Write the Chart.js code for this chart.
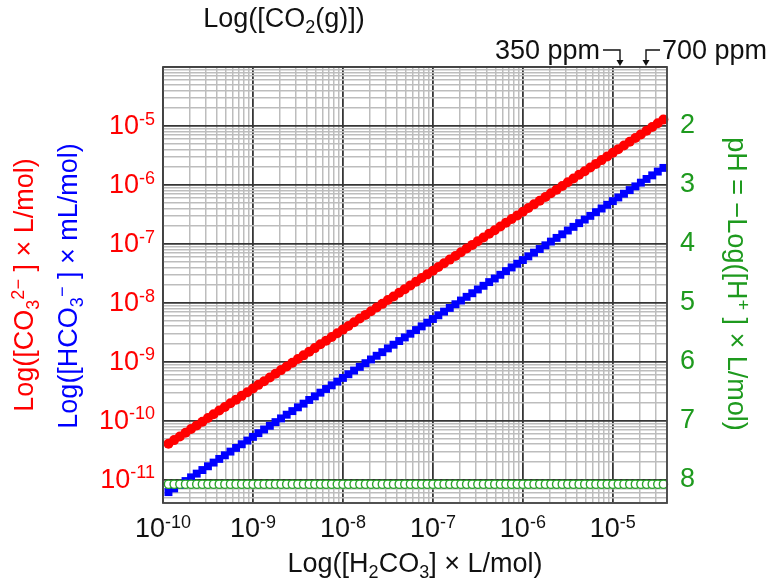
<!DOCTYPE html>
<html>
<head>
<meta charset="utf-8">
<script src="https://cdn.jsdelivr.net/npm/chart.js@4.4.0/dist/chart.umd.min.js"></script>
<style>
  body { margin: 0; background: #fff; }
  canvas { display: block; }
</style>
</head>
<body>
<canvas id="carbonate" width="769" height="581"></canvas>
<script>
const red = "#ff0000";
const blue = "#0000ff";
const green = "#1e9a1e";
const ink = "#111111";
const FONT = "'Liberation Sans', Arial, sans-serif";
const SIZE = 27;

// [H2CO3] in mol/L
const h2co3 = [
  1.15e-10, 1.33e-10, 1.54e-10, 1.78e-10, 2.05e-10, 2.37e-10, 2.74e-10, 3.16e-10, 3.65e-10, 4.22e-10, 4.87e-10, 5.62e-10, 6.49e-10, 7.50e-10, 8.66e-10,
  1.00e-9, 1.15e-9, 1.33e-9, 1.54e-9, 1.78e-9, 2.05e-9, 2.37e-9, 2.74e-9, 3.16e-9, 3.65e-9, 4.22e-9, 4.87e-9, 5.62e-9, 6.49e-9, 7.50e-9, 8.66e-9,
  1.00e-8, 1.15e-8, 1.33e-8, 1.54e-8, 1.78e-8, 2.05e-8, 2.37e-8, 2.74e-8, 3.16e-8, 3.65e-8, 4.22e-8, 4.87e-8, 5.62e-8, 6.49e-8, 7.50e-8, 8.66e-8,
  1.00e-7, 1.15e-7, 1.33e-7, 1.54e-7, 1.78e-7, 2.05e-7, 2.37e-7, 2.74e-7, 3.16e-7, 3.65e-7, 4.22e-7, 4.87e-7, 5.62e-7, 6.49e-7, 7.50e-7, 8.66e-7,
  1.00e-6, 1.15e-6, 1.33e-6, 1.54e-6, 1.78e-6, 2.05e-6, 2.37e-6, 2.74e-6, 3.16e-6, 3.65e-6, 4.22e-6, 4.87e-6, 5.62e-6, 6.49e-6, 7.50e-6, 8.66e-6,
  1.00e-5, 1.15e-5, 1.33e-5, 1.54e-5, 1.78e-5, 2.05e-5, 2.37e-5, 2.74e-5, 3.16e-5, 3.65e-5
];

// [CO3 2-] in mol/L
const co3 = [
  4.04e-11, 4.67e-11, 5.39e-11, 6.22e-11, 7.19e-11, 8.30e-11, 9.58e-11, 1.11e-10, 1.28e-10, 1.48e-10, 1.70e-10, 1.97e-10, 2.27e-10, 2.63e-10, 3.03e-10,
  3.50e-10, 4.04e-10, 4.67e-10, 5.39e-10, 6.22e-10, 7.19e-10, 8.30e-10, 9.58e-10, 1.11e-9, 1.28e-9, 1.48e-9, 1.70e-9, 1.97e-9, 2.27e-9, 2.63e-9, 3.03e-9,
  3.50e-9, 4.04e-9, 4.67e-9, 5.39e-9, 6.22e-9, 7.19e-9, 8.30e-9, 9.58e-9, 1.11e-8, 1.28e-8, 1.48e-8, 1.70e-8, 1.97e-8, 2.27e-8, 2.63e-8, 3.03e-8,
  3.50e-8, 4.04e-8, 4.67e-8, 5.39e-8, 6.22e-8, 7.19e-8, 8.30e-8, 9.58e-8, 1.11e-7, 1.28e-7, 1.48e-7, 1.70e-7, 1.97e-7, 2.27e-7, 2.63e-7, 3.03e-7,
  3.50e-7, 4.04e-7, 4.67e-7, 5.39e-7, 6.22e-7, 7.19e-7, 8.30e-7, 9.58e-7, 1.11e-6, 1.28e-6, 1.48e-6, 1.70e-6, 1.97e-6, 2.27e-6, 2.63e-6, 3.03e-6,
  3.50e-6, 4.04e-6, 4.67e-6, 5.39e-6, 6.22e-6, 7.19e-6, 8.30e-6, 9.58e-6, 1.11e-5, 1.28e-5
];

// [HCO3-] in mmol/L
const hco3 = [
  6.12e-12, 7.07e-12, 8.16e-12, 9.43e-12, 1.09e-11, 1.26e-11, 1.45e-11, 1.68e-11, 1.94e-11, 2.24e-11, 2.58e-11, 2.98e-11, 3.44e-11, 3.97e-11, 4.59e-11,
  5.30e-11, 6.12e-11, 7.07e-11, 8.16e-11, 9.43e-11, 1.09e-10, 1.26e-10, 1.45e-10, 1.68e-10, 1.94e-10, 2.24e-10, 2.58e-10, 2.98e-10, 3.44e-10, 3.97e-10, 4.59e-10,
  5.30e-10, 6.12e-10, 7.07e-10, 8.16e-10, 9.43e-10, 1.09e-9, 1.26e-9, 1.45e-9, 1.68e-9, 1.94e-9, 2.24e-9, 2.58e-9, 2.98e-9, 3.44e-9, 3.97e-9, 4.59e-9,
  5.30e-9, 6.12e-9, 7.07e-9, 8.16e-9, 9.43e-9, 1.09e-8, 1.26e-8, 1.45e-8, 1.68e-8, 1.94e-8, 2.24e-8, 2.58e-8, 2.98e-8, 3.44e-8, 3.97e-8, 4.59e-8,
  5.30e-8, 6.12e-8, 7.07e-8, 8.16e-8, 9.43e-8, 1.09e-7, 1.26e-7, 1.45e-7, 1.68e-7, 1.94e-7, 2.24e-7, 2.58e-7, 2.98e-7, 3.44e-7, 3.97e-7, 4.59e-7,
  5.30e-7, 6.12e-7, 7.07e-7, 8.16e-7, 9.43e-7, 1.09e-6, 1.26e-6, 1.45e-6, 1.68e-6, 1.94e-6
];

const pH = [
  8.08, 8.08, 8.08, 8.08, 8.08, 8.08, 8.08, 8.08, 8.08, 8.08, 8.08, 8.08, 8.08, 8.08, 8.08,
  8.08, 8.08, 8.08, 8.08, 8.08, 8.08, 8.08, 8.08, 8.08, 8.08, 8.08, 8.08, 8.08, 8.08, 8.08, 8.08,
  8.08, 8.08, 8.08, 8.08, 8.08, 8.08, 8.08, 8.08, 8.08, 8.08, 8.08, 8.08, 8.08, 8.08, 8.08, 8.08,
  8.08, 8.08, 8.08, 8.08, 8.08, 8.08, 8.08, 8.08, 8.08, 8.08, 8.08, 8.08, 8.08, 8.08, 8.08, 8.08,
  8.08, 8.08, 8.08, 8.08, 8.08, 8.08, 8.08, 8.08, 8.08, 8.08, 8.08, 8.08, 8.08, 8.08, 8.08, 8.08,
  8.08, 8.08, 8.08, 8.08, 8.08, 8.08, 8.08, 8.08, 8.08, 8.08
];

const xDecades = [-10, -9, -8, -7, -6, -5];
const yDecades = [-11, -10, -9, -8, -7, -6, -5];
const pHTicks = [2, 3, 4, 5, 6, 7, 8];

// one grid line per 1..9 x 10^n
function logGrid(scale) {
  const ticks = [];
  const lo = Math.floor(Math.log10(scale.min));
  const hi = Math.ceil(Math.log10(scale.max));
  for (let e = lo; e <= hi; e++) {
    for (let m = 1; m <= 9; m++) {
      const v = m * Math.pow(10, e);
      if (v >= scale.min * 0.999 && v <= scale.max * 1.001) ticks.push({ value: v });
    }
  }
  scale.ticks = ticks;
}

function isDecade(v) {
  const l = Math.log10(v);
  return Math.abs(l - Math.round(l)) < 1e-6;
}

const gridColor = (c) => (c.tick && isDecade(c.tick.value) ? "#363636" : "#bdbdbd");
const gridWidth = (c) => (c.tick && isDecade(c.tick.value) ? 1.8 : 1.5);

function xy(ys) {
  return h2co3.map((x, i) => ({ x: x, y: ys[i] }));
}

// text with sub/superscripts: parts = [[text, 'sub'|'sup'|undefined], ...]
function drawRich(ctx, parts, x, y, align, color, size) {
  const small = Math.round(size * 0.68);
  let w = 0;
  parts.forEach((p) => {
    ctx.font = (p[1] ? small : size) + "px " + FONT;
    w += ctx.measureText(p[0]).width;
  });
  let cx = align === "center" ? x - w / 2 : align === "right" ? x - w : x;
  ctx.fillStyle = color;
  ctx.textAlign = "left";
  ctx.textBaseline = "alphabetic";
  parts.forEach((p) => {
    ctx.font = (p[1] ? small : size) + "px " + FONT;
    const dy = p[1] === "sub" ? size * 0.22 : p[1] === "sup" ? -size * 0.34 : 0;
    ctx.fillText(p[0], cx, y + dy);
    cx += ctx.measureText(p[0]).width;
  });
}

function arrowDown(ctx, x, y) {
  ctx.beginPath();
  ctx.moveTo(x - 3.5, y - 6);
  ctx.lineTo(x + 3.5, y - 6);
  ctx.lineTo(x, y);
  ctx.closePath();
  ctx.fill();
}

const decorations = {
  id: "decorations",
  afterDraw(chart) {
    const ctx = chart.ctx;
    const a = chart.chartArea;
    const sx = chart.scales.x;
    const sy = chart.scales.y;
    ctx.save();

    // plot frame
    ctx.strokeStyle = "#444";
    ctx.lineWidth = 1.8;
    ctx.strokeRect(a.left, a.top, a.right - a.left, a.bottom - a.top);

    // x tick labels
    xDecades.forEach((e) => {
      drawRich(ctx, [["10"], [String(e), "sup"]], sx.getPixelForValue(Math.pow(10, e)), 537, "center", ink, SIZE);
    });
    // left tick labels
    yDecades.forEach((e) => {
      drawRich(ctx, [["10"], [String(e), "sup"]], 155, sy.getPixelForValue(Math.pow(10, e)) + 8, "right", red, SIZE);
    });

    const mid = (a.left + a.right) / 2;
    drawRich(ctx, [["Log([H"], ["2", "sub"], ["CO"], ["3", "sub"], ["] \u00d7 L/mol)"]], mid, 572, "center", ink, SIZE);
    drawRich(ctx, [["Log([CO"], ["2", "sub"], ["(g)])"]], mid - 131, 27, "center", ink, SIZE);

    // ppm markers
    drawRich(ctx, [["350 ppm"]], 600, 59, "right", ink, SIZE);
    drawRich(ctx, [["700 ppm"]], 662, 59, "left", ink, SIZE);
    ctx.strokeStyle = ink;
    ctx.fillStyle = ink;
    ctx.lineWidth = 1.4;
    ctx.beginPath();
    ctx.moveTo(603, 50);
    ctx.lineTo(620, 50);
    ctx.lineTo(620, 60);
    ctx.moveTo(660, 50);
    ctx.lineTo(646, 50);
    ctx.lineTo(646, 60);
    ctx.stroke();
    arrowDown(ctx, 620, 66);
    arrowDown(ctx, 646, 66);

    // rotated axis titles
    ctx.save();
    ctx.translate(33, 285);
    ctx.rotate(-Math.PI / 2);
    drawRich(ctx, [["Log([CO"], ["3", "sub"], ["2\u2212", "sup"], [" ] \u00d7 L/mol)"]], 0, 0, "center", red, SIZE);
    ctx.restore();

    ctx.save();
    ctx.translate(77, 286);
    ctx.rotate(-Math.PI / 2);
    drawRich(ctx, [["Log([HCO"], ["3", "sub"], ["\u2212", "sup"], [" ] \u00d7 mL/mol)"]], 0, 0, "center", blue, SIZE);
    ctx.restore();

    ctx.save();
    ctx.translate(728, 284);
    ctx.rotate(Math.PI / 2);
    drawRich(ctx, [["pH = \u2212Log([H"], ["+", "sup"], [" ] \u00d7 L/mol)"]], 0, 0, "center", green, SIZE);
    ctx.restore();

    ctx.restore();
  }
};

new Chart("carbonate", {
  type: "scatter",
  data: {
    datasets: [
      {
        data: xy(pH),
        yAxisID: "y2",
        pointStyle: "circle",
        pointRadius: 4.1,
        borderWidth: 1.4,
        borderColor: "#2aa52a",
        backgroundColor: "#ffffff",
        clip: false
      },
      {
        data: xy(co3),
        yAxisID: "y",
        pointStyle: "circle",
        pointRadius: 5,
        borderWidth: 0,
        backgroundColor: red,
        clip: false
      },
      {
        data: xy(hco3),
        yAxisID: "y",
        pointStyle: "rect",
        pointRadius: 5.6,
        borderWidth: 0,
        backgroundColor: blue,
        clip: false
      }
    ]
  },
  options: {
    responsive: false,
    animation: false,
    events: [],
    layout: { padding: { top: 67, left: 0, right: 0, bottom: 0 } },
    plugins: { legend: { display: false }, tooltip: { enabled: false } },
    scales: {
      x: {
        type: "logarithmic",
        min: 1e-10,
        max: 4e-5,
        afterBuildTicks: logGrid,
        afterFit: (s) => { s.height = 78; },
        grid: { color: gridColor, lineWidth: gridWidth, drawTicks: false },
        border: { display: false },
        ticks: { display: false }
      },
      y: {
        type: "logarithmic",
        min: 4e-12,
        max: 1e-4,
        afterBuildTicks: logGrid,
        afterFit: (s) => { s.width = 163; },
        grid: { color: gridColor, lineWidth: gridWidth, drawTicks: false },
        border: { display: false },
        ticks: { display: false }
      },
      y2: {
        type: "linear",
        position: "right",
        reverse: true,
        min: 1,
        max: 8.398,
        afterBuildTicks: (s) => { s.ticks = pHTicks.map((v) => ({ value: v })); },
        afterFit: (s) => { s.width = 102; },
        grid: { drawOnChartArea: false, drawTicks: false },
        border: { display: false },
        ticks: {
          color: green,
          padding: 13,
          font: { family: FONT, size: SIZE },
          callback: (v) => String(v)
        }
      }
    }
  },
  plugins: [decorations]
});
</script>
</body>
</html>
